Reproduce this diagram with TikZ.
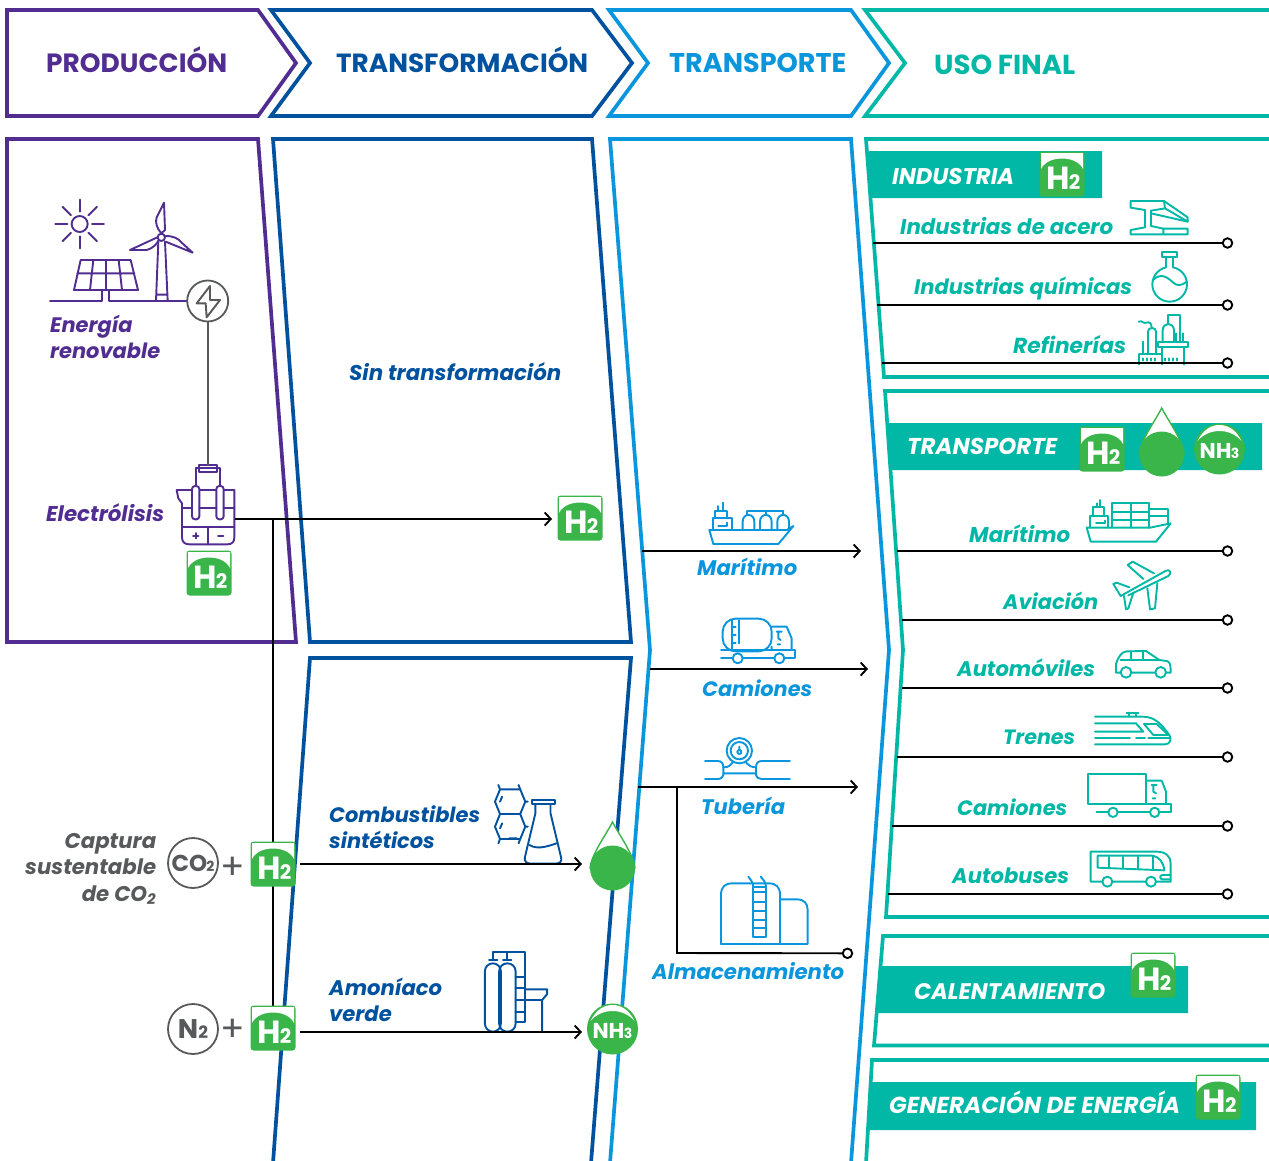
\documentclass[tikz,border=0pt]{standalone}
\usepackage{graphicx}
\usepackage{fontspec}
\setmainfont{Poppins}
\usetikzlibrary{arrows.meta}
\definecolor{cpur}{HTML}{512D92}
\definecolor{cblu}{HTML}{00519E}
\definecolor{clbl}{HTML}{0A96DC}
\definecolor{ctea}{HTML}{00B8A5}
\definecolor{cgrn}{HTML}{39B54A}
\definecolor{cgry}{HTML}{58595B}
\newcommand{\tx}[6]{\node[txt,text=#5] (#1) at (#2,#3) {\resizebox{#4pt}{!}{#6}};}
\newcommand{\hd}[6]{\node[hdr,text=#5] (#1) at (#2,#3) {\resizebox{#4pt}{!}{#6}};}
\tikzset{
  zz/.style 2 args={shift={(#1,#2)},x=.33333pt,y=-.33333pt},
  zy/.style={shift={(0,770)},x=.4209pt,y=-.33333pt},
  txt/.style={anchor=base west,inner sep=0pt,font=\bfseries\itshape\fontsize{20}{25}\selectfont},
  hdr/.style={anchor=base west,inner sep=0pt,font=\bfseries\fontsize{26}{30}\selectfont},
  panel/.style={line width=3.7pt,miter limit=10},
  flow/.style={draw=black,line width=1.9pt},
  arrowed/.style={flow,-{Straight Barb[length=6pt,width=13pt,line width=1.9pt]}},
  term/.style={circle,draw=black,fill=white,line width=1.9pt,minimum size=9.5pt,inner sep=0pt},
  icon/.style={line width=1.9pt,line join=round,line cap=round,fill=none},
  gcirc/.style={circle,draw=cgry,fill=white,line width=1.8pt,minimum size=50pt,inner sep=0pt,text=cgry,font=\bfseries},
  plusn/.style={inner sep=0pt,text=cgry,font=\fontsize{36}{36}\selectfont},
  htwo/.pic={
    \fill[cgrn,rounded corners=3pt] (-22.5,-22.5) rectangle (22.5,22.5);
    \fill[white] (-21,-21) -- (21,-21) -- (21,-5) .. controls (17,-13) and (8,-15.5) .. (0,-15.5) .. controls (-8,-15.5) and (-17,-13) .. (-21,-5) -- cycle;
    \node[inner sep=0pt,text=white,font=\bfseries] (-t) at (1.5,4) {\fontsize{32}{32}\selectfont H\kern-1pt\fontsize{20}{20}\selectfont 2};
  },
  nhthree/.pic={
    \fill[cgrn] (0,0) circle[radius=25.5];
    \fill[white] (-22,-8) .. controls (-16,-20) and (-8,-24) .. (0,-24) .. controls (8,-24) and (16,-20) .. (22,-8) .. controls (16,-15) and (8,-18) .. (0,-18) .. controls (-8,-18) and (-16,-15) .. (-22,-8) -- cycle;
    \node[inner sep=0pt,text=white,font=\bfseries] (-t) at (0,1.5) {\fontsize{21.5}{21.5}\selectfont NH\kern-.5pt\fontsize{14}{14}\selectfont 3};
  },
  dropg/.pic={
    \draw[cgrn,line width=1.4pt,fill=white] (0,-46) .. controls (-6,-34) and (-21,-14) .. (-22.5,0) -- (22.5,0) .. controls (21,-14) and (6,-34) .. (0,-46) -- cycle;
    \fill[cgrn] (0,0) circle[radius=22.5];
  }
}
\begin{document}
\begin{tikzpicture}[x=1pt,y=-1pt]
\useasboundingbox (0,0) rectangle (1269,1160);
% header chevrons
\draw[panel,cpur] (7,10) -- (258,10) -- (296,63) -- (258,116) -- (7,116) -- cycle;
\draw[panel,cblu] (271,10) -- (592,10) -- (632,63) -- (592,116) -- (271,116) -- (310,63) -- cycle;
\draw[panel,clbl] (609,10) -- (851,10) -- (889,63) -- (851,116) -- (609,116) -- (648,63) -- cycle;
\draw[panel,ctea] (1272,10) -- (865,10) -- (905,63) -- (865,116) -- (1272,116);
% body panels
\draw[panel,cpur] (7,139) -- (258,139) -- (296,642) -- (7,642) -- cycle;
\draw[panel,cblu] (273,139) -- (592,139) -- (631,642) -- (310,642) -- cycle;
\draw[panel,cblu] (273,1163) -- (310,658) -- (631,658) -- (591,1163);
\draw[panel,clbl] (610,1163) -- (650,650) -- (610,139) -- (851,139) -- (889,650) -- (851,1163);
\draw[panel,ctea] (1272,139) -- (866,139) -- (884,377) -- (1272,377);
\draw[panel,ctea] (1272,391) -- (885,391) -- (903,650) -- (886,917) -- (1272,917);
\draw[panel,ctea] (1272,936) -- (883,936) -- (874,1045.5) -- (1272,1045.5);
\draw[panel,ctea] (1272,1060) -- (872,1060) -- (866,1163);
% bands
\fill[ctea] (867,151) -- (1102,151) -- (1102,198) -- (870,198) -- cycle;
\fill[ctea] (887,423) -- (1262,423) -- (1262,470) -- (890,470) -- cycle;
\fill[ctea] (879,966) -- (1188,966) -- (1188,1013) -- (876,1013) -- cycle;
\fill[ctea] (871,1082) -- (1256,1082) -- (1256,1130) -- (868,1130) -- cycle;

% renewable icons
\begin{scope}[zz={0}{130},icon,cpur]
  \draw (239,282) circle[radius=24];
  \foreach \a in {0,45,...,315} \draw (239,282) ++(\a:37) -- ++(\a:36);
  \draw (242,390) -- (392,390) -- (414,480) -- (222,480) -- cycle;
  \draw (232,430) -- (403,430) (280,390) -- (270,480) (318,390) -- (318,480) (356,390) -- (366,480);
  \draw (150,512) -- (306,512) -- (306,482) (328,482) -- (328,512) -- (562,512);
  \draw (475,335) -- (468,512) (495,335) -- (503,512) (470,494) -- (501,494);
  \draw (484,322) circle[radius=11];
  \draw (484,310) .. controls (470,295) and (465,275) .. (470,262) -- (492,218) -- (495,300) -- cycle;
  \draw (472,322) -- (390,360) -- (440,360) .. controls (460,355) and (472,340) .. (475,332);
  \draw (497,318) .. controls (520,318) and (535,325) .. (545,338) -- (578,368) -- (497,335);
  % electrolyser
  \draw (597,1005) rectangle (651,1025);
  \draw (587,1075) -- (587,1015) -- (660,1015) -- (660,1075);
  \draw (530,1080) -- (703,1080) -- (703,1222) .. controls (703,1236) and (696,1243) .. (682,1243) -- (568,1243) .. controls (554,1243) and (546,1236) .. (546,1222) -- (546,1120) -- (535,1105) -- cycle;
  \draw[rounded corners=3pt,fill=white] (576,1068) rectangle (598,1168);
  \draw[rounded corners=3pt,fill=white] (649,1068) rectangle (671,1168);
  \draw (546,1135) -- (576,1135) (598,1135) -- (649,1135) (671,1135) -- (703,1135);
  \draw (546,1190) -- (703,1190) (624,1190) -- (624,1243);
  \draw (579,1217) -- (595,1217) (587,1209) -- (587,1225) (654,1217) -- (670,1217);
\end{scope}
\node[circle,draw=cgry,fill=white,line width=1.8pt,minimum size=41pt,inner sep=0pt] (grid) at (207.7,301) {};
\begin{scope}[zz={0}{130},icon,cgry]
  \draw (630,468) -- (590,520) -- (617,520) -- (620,562) -- (660,510) -- (630,510) -- cycle;
\end{scope}
\coordinate (eltop) at (207.7,465);
\draw[cgry,line width=1.9pt] (grid.south) -- (eltop);

% fuel icons
\begin{scope}[zy,icon,cblu]
  \draw (1188,58) -- (1236,58) -- (1248,95) -- (1236,132) -- (1188,132) -- (1176,95) -- cycle;
  \draw (1236,132) -- (1248,170) -- (1236,207) -- (1188,207) -- (1176,170) -- (1188,132);
  \draw (1188,58) -- (1184,45) (1236,58) -- (1232,45) (1248,95) -- (1254,95) (1248,170) -- (1254,170) (1188,207) -- (1184,220) (1236,207) -- (1232,220);
  \draw (1193,80) -- (1188,95) (1193,160) -- (1188,175) (1210,205) -- (1228,205);
  \draw (1264,90) -- (1318,90) -- (1318,103) -- (1264,103) -- cycle;
  \draw (1272,103) -- (1272,130) -- (1247,262) .. controls (1245,275) and (1252,281) .. (1262,281) -- (1318,281) .. controls (1330,281) and (1336,275) .. (1333,262) -- (1308,130) -- (1308,103);
  \draw (1258,225) .. controls (1275,238) and (1295,232) .. (1322,220);
  % ammonia plant
  \draw[rounded corners=8pt] (1152,785) rectangle (1190,580);
  \draw[rounded corners=8pt] (1186,785) rectangle (1225,580);
  \draw (1172,570) -- (1172,545) -- (1248,545) -- (1248,757) -- (1225,757);
  \draw (1205,545) -- (1205,570) (1162,570) -- (1182,570) (1195,570) -- (1215,570);
  \draw (1225,620) -- (1248,620) (1225,655) -- (1248,655) (1225,690) -- (1248,690) (1225,725) -- (1248,725);
  \draw (1248,658) -- (1300,658) -- (1300,672) -- (1288,690) -- (1288,785) (1248,690) -- (1288,690);
\end{scope}

% transport icons
\begin{scope}[zz={640}{490},icon,clbl]
  \draw (208,120) -- (440,120) -- (460,108) -- (415,162) -- (220,162) -- cycle;
  \draw (218,120) -- (218,85) -- (275,85) -- (275,120) (225,85) -- (225,62) -- (262,62) -- (262,85);
  \draw (250,38) -- (250,62) (235,48) -- (235,62) (235,108) -- (262,108) -- (262,98);
  \foreach \x in {308,360,412} \draw (\x,120) -- (\x,95) .. controls (\x,68) and (\x+35,68) .. (\x+35,95) -- (\x+35,120);
  \draw (322,63) -- (430,63) (322,63) -- (322,75) (378,63) -- (378,75) (430,63) -- (430,75);
  % tanker
  \draw[rounded corners=13pt] (248,386) rectangle (395,484);
  \draw (275,390) -- (275,482) (297,390) -- (297,460) (275,410) -- (287,410) (275,435) -- (287,435) (275,460) -- (287,460);
  \draw (395,410) -- (440,410) -- (455,445) -- (455,480) (395,480) -- (395,470);
  \draw (410,425) -- (425,425) (415,425) -- (415,445) -- (422,450) (413,463) -- (420,463);
  \draw (243,480) -- (465,480) -- (465,505) -- (433,505) (403,505) -- (308,505) (278,505) -- (243,505) -- cycle;
  \draw[fill=white] (293,505) circle[radius=15] (418,505) circle[radius=15];
  % pipe
  \draw (298,782) circle[radius=38] (298,782) circle[radius=26] (298,786) circle[radius=6] (298,770) -- (298,780);
  \draw (195,813) -- (232,813) .. controls (245,813) and (250,820) .. (250,832) -- (250,855) .. controls (250,862) and (242,867) .. (232,867) -- (195,867);
  \draw (450,813) -- (365,813) .. controls (354,813) and (348,820) .. (348,832) -- (348,855) .. controls (348,862) and (356,867) .. (365,867) -- (450,867);
  \draw (250,832) .. controls (265,832) and (272,826) .. (278,818) (348,832) .. controls (333,832) and (326,826) .. (318,818) (250,850) -- (348,850);
  % storage
  \draw (243,1362) -- (243,1215) .. controls (243,1190) and (255,1180) .. (278,1180) -- (385,1180) .. controls (408,1180) and (420,1190) .. (420,1215) -- (420,1362);
  \draw (420,1228) -- (470,1228) .. controls (492,1228) and (503,1240) .. (503,1260) -- (503,1362) -- (243,1362);
  \draw[fill=white] (340,1190) rectangle (378,1342);
  \draw (340,1190) .. controls (338,1175) and (332,1168) .. (325,1160) (378,1190) .. controls (376,1175) and (370,1168) .. (362,1160);
  \draw (340,1205) -- (378,1205) (340,1235) -- (378,1235) (340,1262) -- (378,1262) (340,1290) -- (378,1290) (340,1315) -- (378,1315);
\end{scope}

% industry icons
\begin{scope}[zz={860}{130},icon,ctea]
  \draw (812,213) -- (912,213) -- (983,262) -- (983,275) -- (915,235) -- (873,242) -- (873,288) -- (910,296) -- (983,296) -- (983,313) -- (812,313) -- (812,300) -- (855,292) -- (855,240) -- (812,233) -- cycle;
  \draw (912,213) -- (915,235) (910,296) -- (910,313) (873,250) -- (983,275);
  \draw (929,463) circle[radius=52];
  \fill[white] (919,400) rectangle (938,420);
  \draw (905,367) -- (952,367) -- (952,380) -- (905,380) -- cycle;
  \draw (917,380) -- (917,412) (940,380) -- (940,412);
  \draw (879,450) .. controls (905,425) and (925,445) .. (940,458) .. controls (950,468) and (965,468) .. (980,455);
  % refinery
  \draw (838,672) -- (905,672) (838,672) -- (838,703) (905,652) -- (905,703) (972,652) -- (972,703);
  \draw (864,672) -- (864,605) .. controls (864,590) and (888,590) .. (888,605) -- (888,672);
  \draw (836,575) .. controls (848,570) and (848,582) .. (860,578) .. controls (868,575) and (875,578) .. (875,595);
  \draw (848,635) -- (848,672);
  \draw (895,635) -- (983,635) -- (983,652) -- (895,652) -- cycle;
  \draw (908,635) -- (908,602) .. controls (908,575) and (942,575) .. (942,602) -- (942,635);
  \draw (925,580) -- (925,555) -- (960,555) -- (960,635) (948,610) -- (948,635) (968,610) -- (968,635);
  \foreach \x in {850,862,874,886,916,928,940,952} \draw (\x,685) -- (\x,692);
\end{scope}

% mobility icons
\begin{scope}[zz={1000}{490},icon,ctea]
  \draw (260,113) -- (450,113) -- (512,100) -- (468,155) -- (272,155) -- cycle;
  \draw (337,113) -- (337,40) -- (447,40) -- (447,113) (393,40) -- (393,113) (337,66) -- (447,66) (337,90) -- (447,90);
  \draw (447,58) -- (503,58) -- (503,100) (447,78) -- (503,78);
  \draw (270,113) -- (270,78) -- (325,78) -- (325,113) (280,78) -- (280,52) -- (312,52) -- (312,78);
  \draw (300,30) -- (300,52) (290,40) -- (290,52) (288,100) -- (315,100) -- (315,92);
  % plane
  \draw (362,318) -- (498,242) .. controls (510,236) and (516,250) .. (505,258) -- (385,316);
  \draw (430,267) -- (383,225) -- (398,215) -- (462,250);
  \draw (442,295) -- (450,358) -- (465,355) -- (472,280);
  \draw (362,318) -- (340,282) -- (350,278) -- (388,292);
  \draw (372,318) -- (378,358) -- (385,355) -- (400,308);
  % car
  \draw (362,548) -- (348,548) -- (348,522) .. controls (355,500) and (365,485) .. (380,484) -- (438,483) -- (478,510) -- (500,513) .. controls (510,516) and (512,522) .. (512,548) -- (497,548) (465,548) -- (395,548);
  \draw (378,547) circle[radius=16] (482,547) circle[radius=16];
  \draw (362,510) -- (478,510) (392,485) -- (392,510) (430,484) -- (430,510);
  % train
  \draw (285,680) -- (425,680) .. controls (455,680) and (470,690) .. (490,712) -- (508,735) .. controls (516,748) and (510,763) .. (495,763) -- (285,763);
  \draw (285,700) -- (408,700) -- (430,725) -- (285,725);
  \draw (285,745) -- (390,745) (408,745) -- (435,745) (445,745) -- (510,745);
  \draw (432,702) -- (470,702) -- (505,735) -- (460,735) -- cycle;
  \draw (380,668) -- (415,668) (388,668) -- (388,680) (408,668) -- (408,680);
  % truck
  \draw (265,852) rectangle (438,942);
  \draw (438,872) -- (485,872) -- (498,905) -- (498,942);
  \draw (455,885) -- (470,885) (460,885) -- (460,905) -- (468,910) (458,925) -- (466,925);
  \draw (290,942) -- (512,942) -- (512,967) -- (478,967) (450,967) -- (353,967) (325,967) -- (290,967) -- cycle;
  \draw[fill=white] (339,967) circle[radius=14] (464,967) circle[radius=14];
  % bus
  \draw (307,1175) -- (272,1175) -- (272,1085) -- (470,1085) .. controls (498,1085) and (512,1100) .. (512,1120) -- (512,1175) -- (468,1175) (438,1175) -- (337,1175);
  \draw (293,1097) -- (455,1097) .. controls (480,1100) and (490,1118) .. (493,1141) -- (293,1133) -- cycle;
  \draw (327,1097) -- (327,1134) (370,1097) -- (370,1136) (415,1097) -- (415,1138) (458,1097) -- (458,1140);
  \draw (322,1175) circle[radius=15] (453,1175) circle[radius=15];
  \draw (512,1155) -- (488,1155) .. controls (478,1155) and (478,1168) .. (488,1168) -- (512,1168);
\end{scope}

% connectors
\coordinate (elout) at (235,519);
\coordinate (hsplit) at (273,519);
\coordinate (hco) at (273,864);
\coordinate (hn) at (273,1028);
\coordinate (endh) at (552,519);
\draw[arrowed] (elout) -- (endh);
\draw[flow] (hsplit) -- (hco) -- (hn);
\coordinate (ca) at (300,864); \coordinate (cb) at (582,864);
\coordinate (na) at (300,1032); \coordinate (nb) at (582,1032);
\draw[arrowed] (ca) -- (cb);
\draw[arrowed] (na) -- (nb);
\coordinate (ma) at (642,551); \coordinate (mb) at (861,551);
\coordinate (ta) at (650,669); \coordinate (tb) at (868,669);
\coordinate (pa) at (638,787); \coordinate (pb) at (858,787);
\coordinate (pc) at (677,787); \coordinate (pd) at (677,953);
\draw[arrowed] (ma) -- (mb);
\draw[arrowed] (ta) -- (tb);
\draw[arrowed] (pa) -- (pb);
\node[term] (alm) at (847.5,953.3) {};
\draw[flow] (pc) -- (pd) -- (alm);
\foreach \n/\x/\y in {u1/873/243,u2/877/305,u3/882/363,u4/897/551,u5/902/620,u6/902/688,u7/897/757,u8/892/826,u9/888/894}{
  \coordinate (\n a) at (\x,\y);
  \node[term] (\n t) at (1227.5,\y) {};
  \draw[flow] (\n a) -- (\n t);
}

% badges
\pic (hb) at (580,518) {htwo};
\pic (he) at (209,573) {htwo};
\pic (hc) at (273,864) {htwo};
\pic (hd) at (273,1028) {htwo};
\pic (hi) at (1062,174) {htwo};
\pic (ht) at (1102,449) {htwo};
\pic (hl) at (1153,975) {htwo};
\pic (hg) at (1218,1097) {htwo};
\pic (df) at (612.5,868) {dropg};
\pic (dt) at (1161.7,454) {dropg};
\pic (nb3) at (612.5,1029) {nhthree};
\pic (nt) at (1219.5,449) {nhthree};
\node[gcirc] (co2) at (193,863) {\fontsize{23}{23}\selectfont CO\kern-1pt\fontsize{14}{14}\selectfont 2};
\node[gcirc] (n2) at (193,1029) {\fontsize{27}{27}\selectfont N\fontsize{17}{17}\selectfont 2};
\node[plusn] (p1) at (233,868) {+};
\node[plusn] (p2) at (233,1030) {+};

% headers
\hd{h1}{46}{72}{181}{cpur}{PRODUCCIÓN}
\hd{h2}{336}{72}{252}{cblu}{TRANSFORMACIÓN}
\hd{h3}{669}{72}{177}{clbl}{TRANSPORTE}
\hd{h4}{934}{74}{141}{ctea}{USO FINAL}
% labels
\tx{l1}{50}{332.5}{110}{cpur}{\begin{tabular}[t]{@{}l@{}}Energía\\renovable\end{tabular}}
\tx{l2}{46}{521.5}{118}{cpur}{Electrólisis}
\tx{l3}{349}{380.5}{212}{cblu}{Sin transformación}
\tx{l4}{329}{822}{151}{cblu}{\begin{tabular}[t]{@{}l@{}}Combustibles\\sintéticos\end{tabular}}
\tx{l5}{329}{995}{113}{cblu}{\begin{tabular}[t]{@{}l@{}}Amoníaco\\verde\end{tabular}}
\tx{l6}{25}{848}{131}{cgry}{\begin{tabular}[t]{@{}r@{}}Captura\\sustentable\\de CO\textsubscript{2}\end{tabular}}
\tx{l7}{697}{575}{100}{clbl}{Marítimo}
\tx{l8}{702}{696}{110}{clbl}{Camiones}
\tx{l9}{701}{814}{84}{clbl}{Tubería}
\tx{l10}{652}{979.5}{192}{clbl}{Almacenamiento}
\tx{b1}{892}{184}{122}{white}{INDUSTRIA}
\tx{b2}{907}{454.5}{150}{white}{TRANSPORTE}
\tx{b3}{914}{999.5}{191}{white}{CALENTAMIENTO}
\tx{b4}{889}{1113}{291}{white}{GENERACIÓN DE ENERGÍA}
\tx{i1}{900}{234}{213}{ctea}{Industrias de acero}
\tx{i2}{914}{294}{218}{ctea}{Industrias químicas}
\tx{i3}{1013}{353.2}{113}{ctea}{Refinerías}
\tx{m1}{969}{542.5}{101}{ctea}{Marítimo}
\tx{m2}{1003}{609}{95}{ctea}{Aviación}
\tx{m3}{957}{676.7}{138}{ctea}{Automóviles}
\tx{m4}{1003}{744}{72}{ctea}{Trenes}
\tx{m5}{957}{815}{110}{ctea}{Camiones}
\tx{m6}{952}{883}{117}{ctea}{Autobuses}
\end{tikzpicture}
\end{document}
